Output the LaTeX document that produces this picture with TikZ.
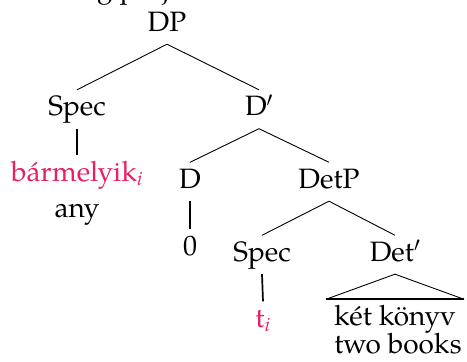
\documentclass[tikz,border=0pt]{standalone}
\usepackage{fontspec}
\setmainfont{TeX Gyre Pagella}
\definecolor{trace}{RGB}{233,30,99}
\tikzset{
  lbl/.style={anchor=base, inner xsep=0pt, inner ysep=6pt,
              text height=19.5pt, text depth=7pt},
  gloss/.style={anchor=base, inner sep=0pt},
  branch/.style={line width=0.9pt},
  stem/.style={line width=1.7pt},
}
\begin{document}
\begin{tikzpicture}[x=1pt, y=-1pt, font=\fontsize{28}{28}\selectfont]
\useasboundingbox (0,0) rectangle (467,362);

% caption line running off the top edge
\node[anchor=base west, inner sep=0pt] (cap) at (97,-3) {g proj};

% tree labels
\node[lbl] (dp)    at (167,31)  {DP};
\node[lbl] (spec1) at (77,115.5) {Spec};
\node[lbl] (dbar)  at (259,115.5) {D$'$};
\node[lbl, text=trace] (barm) at (77,181) {bármelyik\textsubscript{\textit{i}}};
\node[gloss] (any) at (77,217) {any};
\node[lbl] (d)     at (190,188) {D};
\node[lbl] (detp)  at (329,188) {DetP};
\node[lbl] (zero)  at (190,255) {0};
\node[lbl] (spec2) at (262,261) {Spec};
\node[lbl] (detbar) at (395,261) {Det$'$};
\node[lbl, text=trace] (trc) at (263,327) {t\textsubscript{\textit{i}}};
\node[lbl, inner xsep=8pt] (kk) at (395,325) {két könyv};
\node[gloss] (tb) at (398,353) {two books};

% branches
\draw[branch] (dp.south) -- (spec1.north);
\draw[branch] (dp.south) -- (dbar.north);
\draw[branch] (dbar.south) -- (d.north);
\draw[branch] (dbar.south) -- (detp.north);
\draw[branch] (detp.south) -- (spec2.north);
\draw[branch] (detp.south) -- (detbar.north);

% unary stems
\draw[stem] (spec1.south) -- (barm.north);
\draw[stem] (d.south) -- (zero.north);
\draw[stem] (spec2.south) -- (trc.north);

% roof over the phrase
\draw[branch] (kk.north west) -- (detbar.south) -- (kk.north east);
\draw[stem] (kk.north west) -- (kk.north east);
\end{tikzpicture}
\end{document}
